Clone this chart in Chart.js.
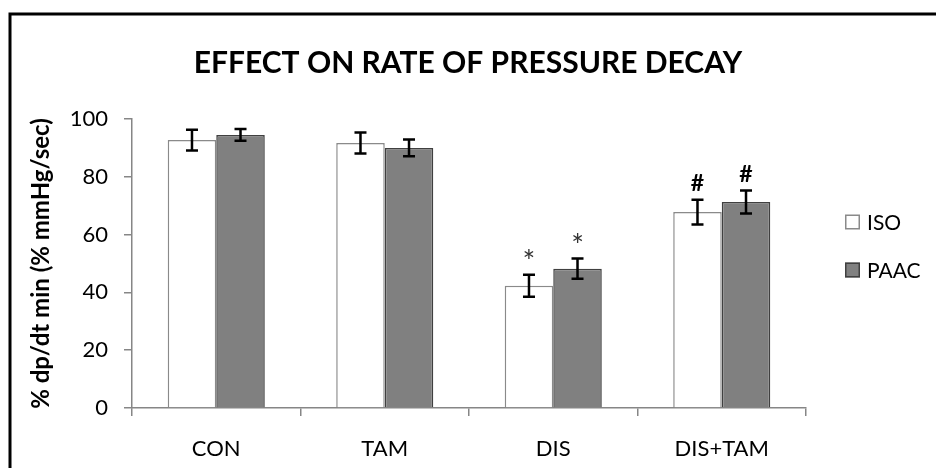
<!DOCTYPE html>
<html><head><meta charset="utf-8">
<script src="https://cdn.jsdelivr.net/npm/chart.js@4"></script>
<style>html,body{margin:0;padding:0;background:#fff}canvas{display:block}</style>
</head><body>
<canvas id="c" width="936" height="468"></canvas>
<script>
const categories = ['CON', 'TAM', 'DIS', 'DIS+TAM'];
const seriesNames = ['ISO', 'PAAC'];
const isoValues = [92.7, 91.7, 42.3, 67.8];
const isoErrors = [3.6, 3.6, 3.8, 4.3];
const paacValues = [94.5, 90.0, 48.2, 71.3];
const paacErrors = [2.0, 2.9, 3.5, 4.0];
const isoMarks = ['', '', '*', '#'];
const paacMarks = ['', '', '*', '#'];
const yTicks = [0, 20, 40, 60, 80, 100];
const chartTitle = 'EFFECT ON RATE OF PRESSURE DECAY';
const yTitle = '% dp/dt min (% mmHg/sec)';

const FONT = 'Lato';

const errorBarPlugin = {
  id: 'errorBars',
  afterDatasetsDraw(chart) {
    const ctx = chart.ctx;
    const y = chart.scales.y;
    chart.data.datasets.forEach((ds, di) => {
      const meta = chart.getDatasetMeta(di);
      meta.data.forEach((bar, i) => {
        const v = ds.data[i], e = ds.errors[i];
        const yt = y.getPixelForValue(v + e);
        const yb = y.getPixelForValue(v - e);
        const x = bar.x;
        ctx.save();
        ctx.strokeStyle = '#000';
        ctx.lineWidth = 2.5;
        ctx.beginPath();
        ctx.moveTo(x, yt); ctx.lineTo(x, yb);
        ctx.moveTo(x - 6, yt); ctx.lineTo(x + 6, yt);
        ctx.moveTo(x - 6, yb); ctx.lineTo(x + 6, yb);
        ctx.stroke();
        const m = ds.marks[i];
        if (m) {
          ctx.textAlign = 'center';
          ctx.textBaseline = 'middle';
          if (m === '#') {
            ctx.font = 'bold 23px ' + FONT;
            ctx.fillStyle = '#000';
            ctx.fillText(m, x, yt - 16);
          } else {
            ctx.font = '30px ' + FONT;
            ctx.fillStyle = '#333';
            ctx.fillText(m, x, yt - 12);
          }
        }
        ctx.restore();
      });
    });
  }
};

const legendFramePlugin = {
  id: 'legendFrame',
  afterDraw(chart) {
    const ctx = chart.ctx;
    const a = chart.chartArea;
    ctx.save();
    ctx.strokeStyle = '#000';
    ctx.lineWidth = 3;
    ctx.strokeRect(10, 14, 1000, 1000);
    const lx = a.right + 39;
    const ys = [a.top + 103, a.top + 151];
    chart.data.datasets.forEach((ds, i) => {
      const cy = ys[i];
      ctx.fillStyle = ds.backgroundColor;
      ctx.fillRect(lx, cy - 7.5, 15, 15);
      ctx.strokeStyle = ds.borderColor;
      ctx.lineWidth = 1.5;
      ctx.strokeRect(lx + 0.75, cy - 6.75, 13.5, 13.5);
      ctx.fillStyle = '#000';
      ctx.font = '21px ' + FONT;
      ctx.textAlign = 'left';
      ctx.textBaseline = 'middle';
      ctx.fillText(ds.label, lx + 22, cy + 1);
    });
    ctx.restore();
  }
};

new Chart(document.getElementById('c'), {
  type: 'bar',
  data: {
    labels: categories,
    datasets: [
      { label: seriesNames[0], data: isoValues, errors: isoErrors, marks: isoMarks,
        backgroundColor: '#ffffff', borderColor: '#8a8a8a', borderWidth: 1.5 },
      { label: seriesNames[1], data: paacValues, errors: paacErrors, marks: paacMarks,
        backgroundColor: '#808080', borderColor: '#404040', borderWidth: 1.5 }
    ]
  },
  options: {
    responsive: false,
    animation: false,
    devicePixelRatio: 1,
    layout: { padding: 0 },
    categoryPercentage: 0.576,
    barPercentage: 1.0,
    plugins: {
      legend: { display: false },
      tooltip: { enabled: false },
      title: {
        display: true, text: chartTitle, color: '#000',
        font: { family: FONT, size: 30, weight: 'bold', lineHeight: 1.2 },
        padding: { top: 45, bottom: 38 }
      }
    },
    scales: {
      x: {
        grid: { display: true, drawOnChartArea: false, drawTicks: true, tickLength: 8, color: '#868686', lineWidth: 1.5, offset: true },
        border: { display: true, color: '#868686', width: 1.5 },
        ticks: { color: '#000', font: { family: FONT, size: 22 }, padding: 20, maxRotation: 0 },
        afterFit(s) { s.height = 60; }
      },
      y: {
        min: yTicks[0], max: yTicks[yTicks.length - 1],
        afterBuildTicks(s) { s.ticks = yTicks.map(v => ({ value: v })); },
        grid: { display: true, drawOnChartArea: false, drawTicks: true, tickLength: 8, color: '#868686', lineWidth: 1.5 },
        border: { display: true, color: '#868686', width: 1.5 },
        ticks: { color: '#000', font: { family: FONT, size: 22 }, padding: 16 },
        title: { display: true, text: yTitle, color: '#000', font: { family: FONT, size: 24, weight: 'bold', lineHeight: 1.2 }, padding: { top: 27, bottom: 0 } },
        afterFit(s) { s.width = 132; }
      },
      yR: {
        position: 'right', display: true,
        grid: { display: false }, border: { display: false }, ticks: { display: false },
        afterFit(s) { s.width = 130; }
      }
    }
  },
  plugins: [errorBarPlugin, legendFramePlugin]
});
</script>
</body></html>
